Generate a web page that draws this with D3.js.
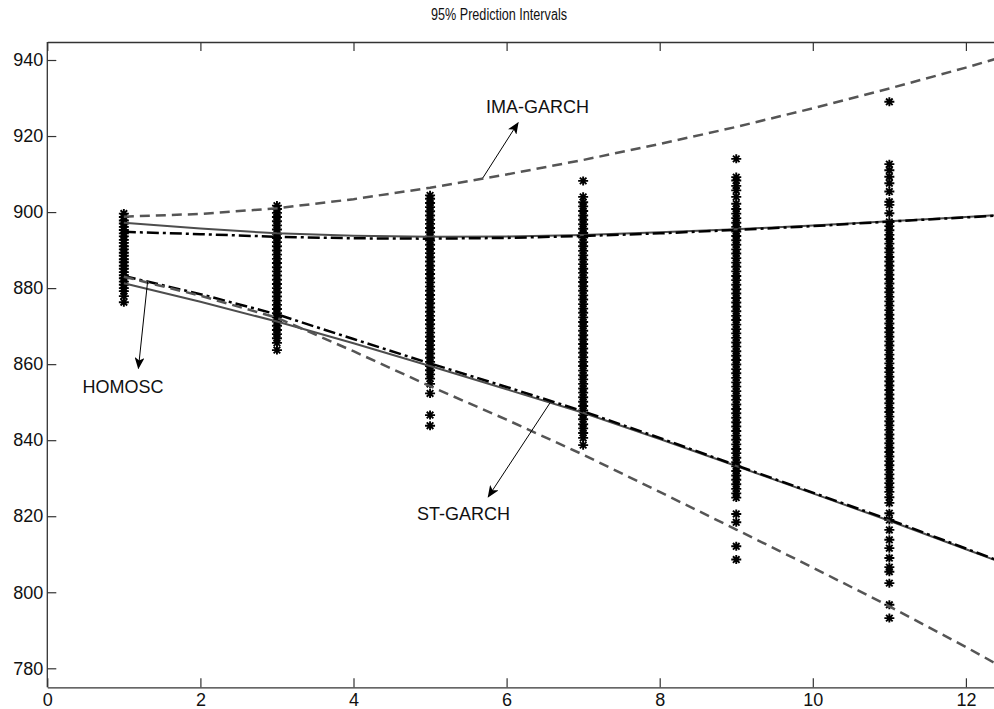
<!DOCTYPE html>
<html>
<head>
<meta charset="utf-8">
<script src="https://cdn.jsdelivr.net/npm/d3@7"></script>
<style>
  body { margin: 0; background: #fff; }
  svg { display: block; }
  text { font-family: "Liberation Sans", Arial, sans-serif; fill: #111; }
</style>
</head>
<body>
<div id="chart"></div>
<script>
// forecast steps for the interval lines
var steps = [1, 2, 3, 4, 5, 6, 7, 8, 9, 10, 11, 12, 13];

// IMA-GARCH (dashed grey)
var imaUpper = [898.8, 899.5, 901.0, 903.4, 906.4, 909.9, 913.7, 917.9, 922.4, 927.3, 932.5, 938.0, 943.9];
var imaLower = [883.0, 878.0, 872.2, 863.4, 854.2, 845.4, 836.2, 826.4, 816.5, 806.5, 796.3, 785.6, 774.4];

// ST-GARCH (solid grey)
var stUpper = [897.2, 895.7, 894.4, 893.8, 893.5, 893.6, 894.0, 894.7, 895.5, 896.5, 897.6, 898.7, 899.9];
var stLower = [881.3, 876.4, 871.2, 865.5, 859.5, 853.4, 847.2, 840.3, 833.2, 826.0, 818.8, 811.3, 803.8];

// HOMOSC (dash-dot black)
var homUpper = [894.8, 894.2, 893.5, 893.1, 893.0, 893.2, 893.7, 894.4, 895.3, 896.3, 897.5, 898.6, 899.8];
var homLower = [883.2, 878.4, 873.1, 866.6, 860.2, 854.0, 847.6, 840.6, 833.4, 826.2, 819.1, 811.5, 804.0];

// simulated future values at each horizon
var horizons = [1, 3, 5, 7, 9, 11];
var sim1 = [876.3, 877.9, 879.2, 880.0, 880.9, 881.7, 882.6, 883.4, 884.2, 885.1, 885.9, 886.8, 887.6, 888.5, 889.3, 890.2, 891.0, 891.9, 892.7, 893.6, 894.4, 895.3, 896.1, 897.0, 897.8, 898.7, 899.6];
var sim3 = [863.7, 865.6, 866.8, 867.9, 869.0, 870.1, 871.2, 872.3, 873.4, 874.5, 875.6, 876.7, 877.8, 878.9, 880.0, 881.1, 882.2, 883.3, 884.4, 885.5, 886.6, 887.7, 888.8, 889.9, 891.0, 892.1, 893.2, 894.3, 895.4, 896.5, 897.6, 898.7, 899.8, 900.8, 901.7];
var sim5 = [843.8, 846.6, 852.3, 854.8, 856.2, 857.3, 858.4, 859.5, 860.6, 861.7, 862.8, 863.9, 865.0, 866.1, 867.2, 868.3, 869.4, 870.5, 871.6, 872.7, 873.8, 874.9, 876.0, 877.1, 878.2, 879.3, 880.4, 881.5, 882.6, 883.7, 884.8, 885.9, 887.0, 888.1, 889.2, 890.3, 891.4, 892.5, 893.6, 894.7, 895.8, 896.9, 898.0, 899.1, 900.2, 901.3, 902.4, 903.5, 904.4];
var sim7 = [838.7, 840.6, 841.9, 843.1, 844.2, 845.5, 846.6, 847.8, 849.0, 850.1, 851.3, 852.5, 853.6, 854.8, 856.0, 857.1, 858.3, 859.5, 860.6, 861.8, 863.0, 864.1, 865.3, 866.5, 867.6, 868.8, 870.0, 871.1, 872.3, 873.5, 874.6, 875.8, 877.0, 878.1, 879.3, 880.5, 881.6, 882.8, 884.0, 885.1, 886.3, 887.5, 888.6, 889.8, 891.0, 892.1, 893.3, 894.5, 895.6, 896.8, 898.0, 899.1, 900.3, 901.5, 902.6, 904.0, 908.2];
var sim9 = [808.6, 812.1, 818.4, 820.6, 824.9, 826.0, 827.2, 828.4, 829.6, 830.7, 831.9, 833.1, 834.2, 835.4, 836.6, 837.7, 838.9, 840.1, 841.2, 842.4, 843.6, 844.7, 845.9, 847.1, 848.2, 849.4, 850.6, 851.7, 852.9, 854.1, 855.2, 856.4, 857.6, 858.7, 859.9, 861.1, 862.2, 863.4, 864.6, 865.7, 866.9, 868.1, 869.2, 870.4, 871.6, 872.7, 873.9, 875.1, 876.2, 877.4, 878.6, 879.7, 880.9, 882.1, 883.2, 884.4, 885.6, 886.7, 887.9, 889.1, 890.2, 891.4, 892.6, 893.7, 894.9, 896.1, 897.2, 898.4, 899.6, 900.8, 902.2, 904.0, 905.7, 906.9, 908.3, 909.2, 914.0];
var sim11 = [793.2, 796.7, 802.4, 805.4, 806.6, 809.0, 811.6, 813.8, 816.4, 819.0, 820.8, 823.5, 825.0, 826.4, 827.6, 828.7, 829.9, 831.0, 832.2, 833.4, 834.5, 835.7, 836.9, 838.0, 839.2, 840.4, 841.5, 842.7, 843.9, 845.0, 846.2, 847.4, 848.5, 849.7, 850.9, 852.0, 853.2, 854.4, 855.5, 856.7, 857.9, 859.0, 860.2, 861.4, 862.5, 863.7, 864.9, 866.0, 867.2, 868.4, 869.5, 870.7, 871.9, 873.0, 874.2, 875.4, 876.5, 877.7, 878.9, 880.0, 881.2, 882.4, 883.5, 884.7, 885.9, 887.0, 888.2, 889.4, 890.5, 891.7, 892.9, 894.0, 895.2, 896.3, 897.4, 899.7, 901.9, 902.7, 905.4, 907.6, 909.3, 911.0, 912.6, 929.0];
var simValues = [sim1, sim3, sim5, sim7, sim9, sim11];

// axis ticks
var xTicks = [0, 2, 4, 6, 8, 10, 12];
var yTicks = [780, 800, 820, 840, 860, 880, 900, 920, 940];

// annotation labels, arrows given in data units [fromX, fromY, toX, toY], label at [x, y]
var noteNames = ["IMA-GARCH", "ST-GARCH", "HOMOSC"];
var noteArrows = [[5.69, 909.0, 6.15, 923.5], [6.57, 849.9, 5.76, 825.1], [1.31, 881.7, 1.19, 858.9]];
var noteSpots = [[5.73, 926.1], [4.83, 819.0], [0.46, 852.4]];

document.addEventListener('DOMContentLoaded', function () {
  draw();
}, false);

function draw() {
  var width = 994, height = 709;
  var left = 47.3, top = 42, bottom = 687.3;

  var svg = d3.select("#chart").append("svg")
    .attr("width", width)
    .attr("height", height);

  var x = d3.scaleLinear().domain([0, 13]).range([left, left + 13 * 76.55]);
  var y = d3.scaleLinear().domain([780, 940]).range([668.3, 60]);

  // title (squeezed a bit like the original render)
  svg.append("text")
    .attr("x", 431)
    .attr("y", 20)
    .attr("textLength", 136)
    .attr("lengthAdjust", "spacingAndGlyphs")
    .style("font-size", "16px")
    .text("95% Prediction Intervals");

  // simulated points as '*' markers
  var pts = [];
  horizons.forEach(function (h, i) {
    simValues[i].forEach(function (v) {
      pts.push({ h: h, v: v });
    });
  });

  var star = "M-5,0H5M0,-4.5V4.5M-3.3,-3.3L3.3,3.3M-3.3,3.3L3.3,-3.3";
  svg.append("g").selectAll("path")
    .data(pts)
    .enter()
    .append("path")
    .attr("d", star)
    .attr("transform", function (d) { return "translate(" + x(d.h) + "," + y(d.v) + ")"; })
    .attr("fill", "none")
    .attr("stroke", "#000")
    .attr("stroke-width", 1.9);

  // interval lines
  var line = d3.line()
    .x(function (d, i) { return x(steps[i]); })
    .y(function (d) { return y(d); });

  var lines = [
    { vals: stUpper, color: "#4d4d4d", w: 2, dash: null },
    { vals: stLower, color: "#4d4d4d", w: 2, dash: null },
    { vals: homUpper, color: "#000", w: 2.5, dash: "12,4,3,4" },
    { vals: homLower, color: "#000", w: 2.5, dash: "12,4,3,4" },
    { vals: imaUpper, color: "#555", w: 2.5, dash: "10,6" },
    { vals: imaLower, color: "#555", w: 2.5, dash: "10,6" }
  ];

  svg.append("g").selectAll("path")
    .data(lines)
    .enter()
    .append("path")
    .attr("d", function (d) { return line(d.vals); })
    .attr("fill", "none")
    .attr("stroke", function (d) { return d.color; })
    .attr("stroke-width", function (d) { return d.w; })
    .attr("stroke-dasharray", function (d) { return d.dash; });

  // axes box
  var xAxis = d3.axisBottom(x).tickValues(xTicks).tickSizeInner(-9).tickSizeOuter(0).tickPadding(5.5);
  var xTop = d3.axisTop(x).tickValues(xTicks).tickSizeInner(-9).tickSizeOuter(0).tickFormat("");
  var yAxis = d3.axisLeft(y).tickValues(yTicks).tickSizeInner(-9).tickSizeOuter(0).tickPadding(4);

  var gx = svg.append("g").attr("transform", "translate(0," + bottom + ")").call(xAxis);
  var gt = svg.append("g").attr("transform", "translate(0," + top + ")").call(xTop);
  var gy = svg.append("g").attr("transform", "translate(" + left + ",0)").call(yAxis);

  gy.select(".domain").attr("d", "M0," + top + "V" + bottom);

  [gx, gt, gy].forEach(function (g) {
    g.selectAll(".domain").attr("stroke", "#333").attr("stroke-width", 1.3);
    g.selectAll(".tick line").attr("stroke", "#333").attr("stroke-width", 1.2);
    g.selectAll(".tick text")
      .style("font-size", "18px")
      .style("font-family", "'Liberation Sans', Arial, sans-serif")
      .attr("fill", "#111");
  });

  // annotations
  svg.append("defs").append("marker")
    .attr("id", "head")
    .attr("viewBox", "0 0 12 10")
    .attr("refX", 11)
    .attr("refY", 5)
    .attr("markerWidth", 12)
    .attr("markerHeight", 10)
    .attr("markerUnits", "userSpaceOnUse")
    .attr("orient", "auto")
    .append("path")
    .attr("d", "M0,0L12,5L0,10L3,5Z")
    .attr("fill", "#000");

  svg.append("g").selectAll("line")
    .data(noteArrows)
    .enter()
    .append("line")
    .attr("x1", function (d) { return x(d[0]); })
    .attr("y1", function (d) { return y(d[1]); })
    .attr("x2", function (d) { return x(d[2]); })
    .attr("y2", function (d) { return y(d[3]); })
    .attr("stroke", "#000")
    .attr("stroke-width", 1)
    .attr("marker-end", "url(#head)");

  svg.append("g").selectAll("text")
    .data(noteNames)
    .enter()
    .append("text")
    .attr("x", function (d, i) { return x(noteSpots[i][0]); })
    .attr("y", function (d, i) { return y(noteSpots[i][1]); })
    .style("font-size", "18px")
    .text(function (d) { return d; });
}
</script>
</body>
</html>
